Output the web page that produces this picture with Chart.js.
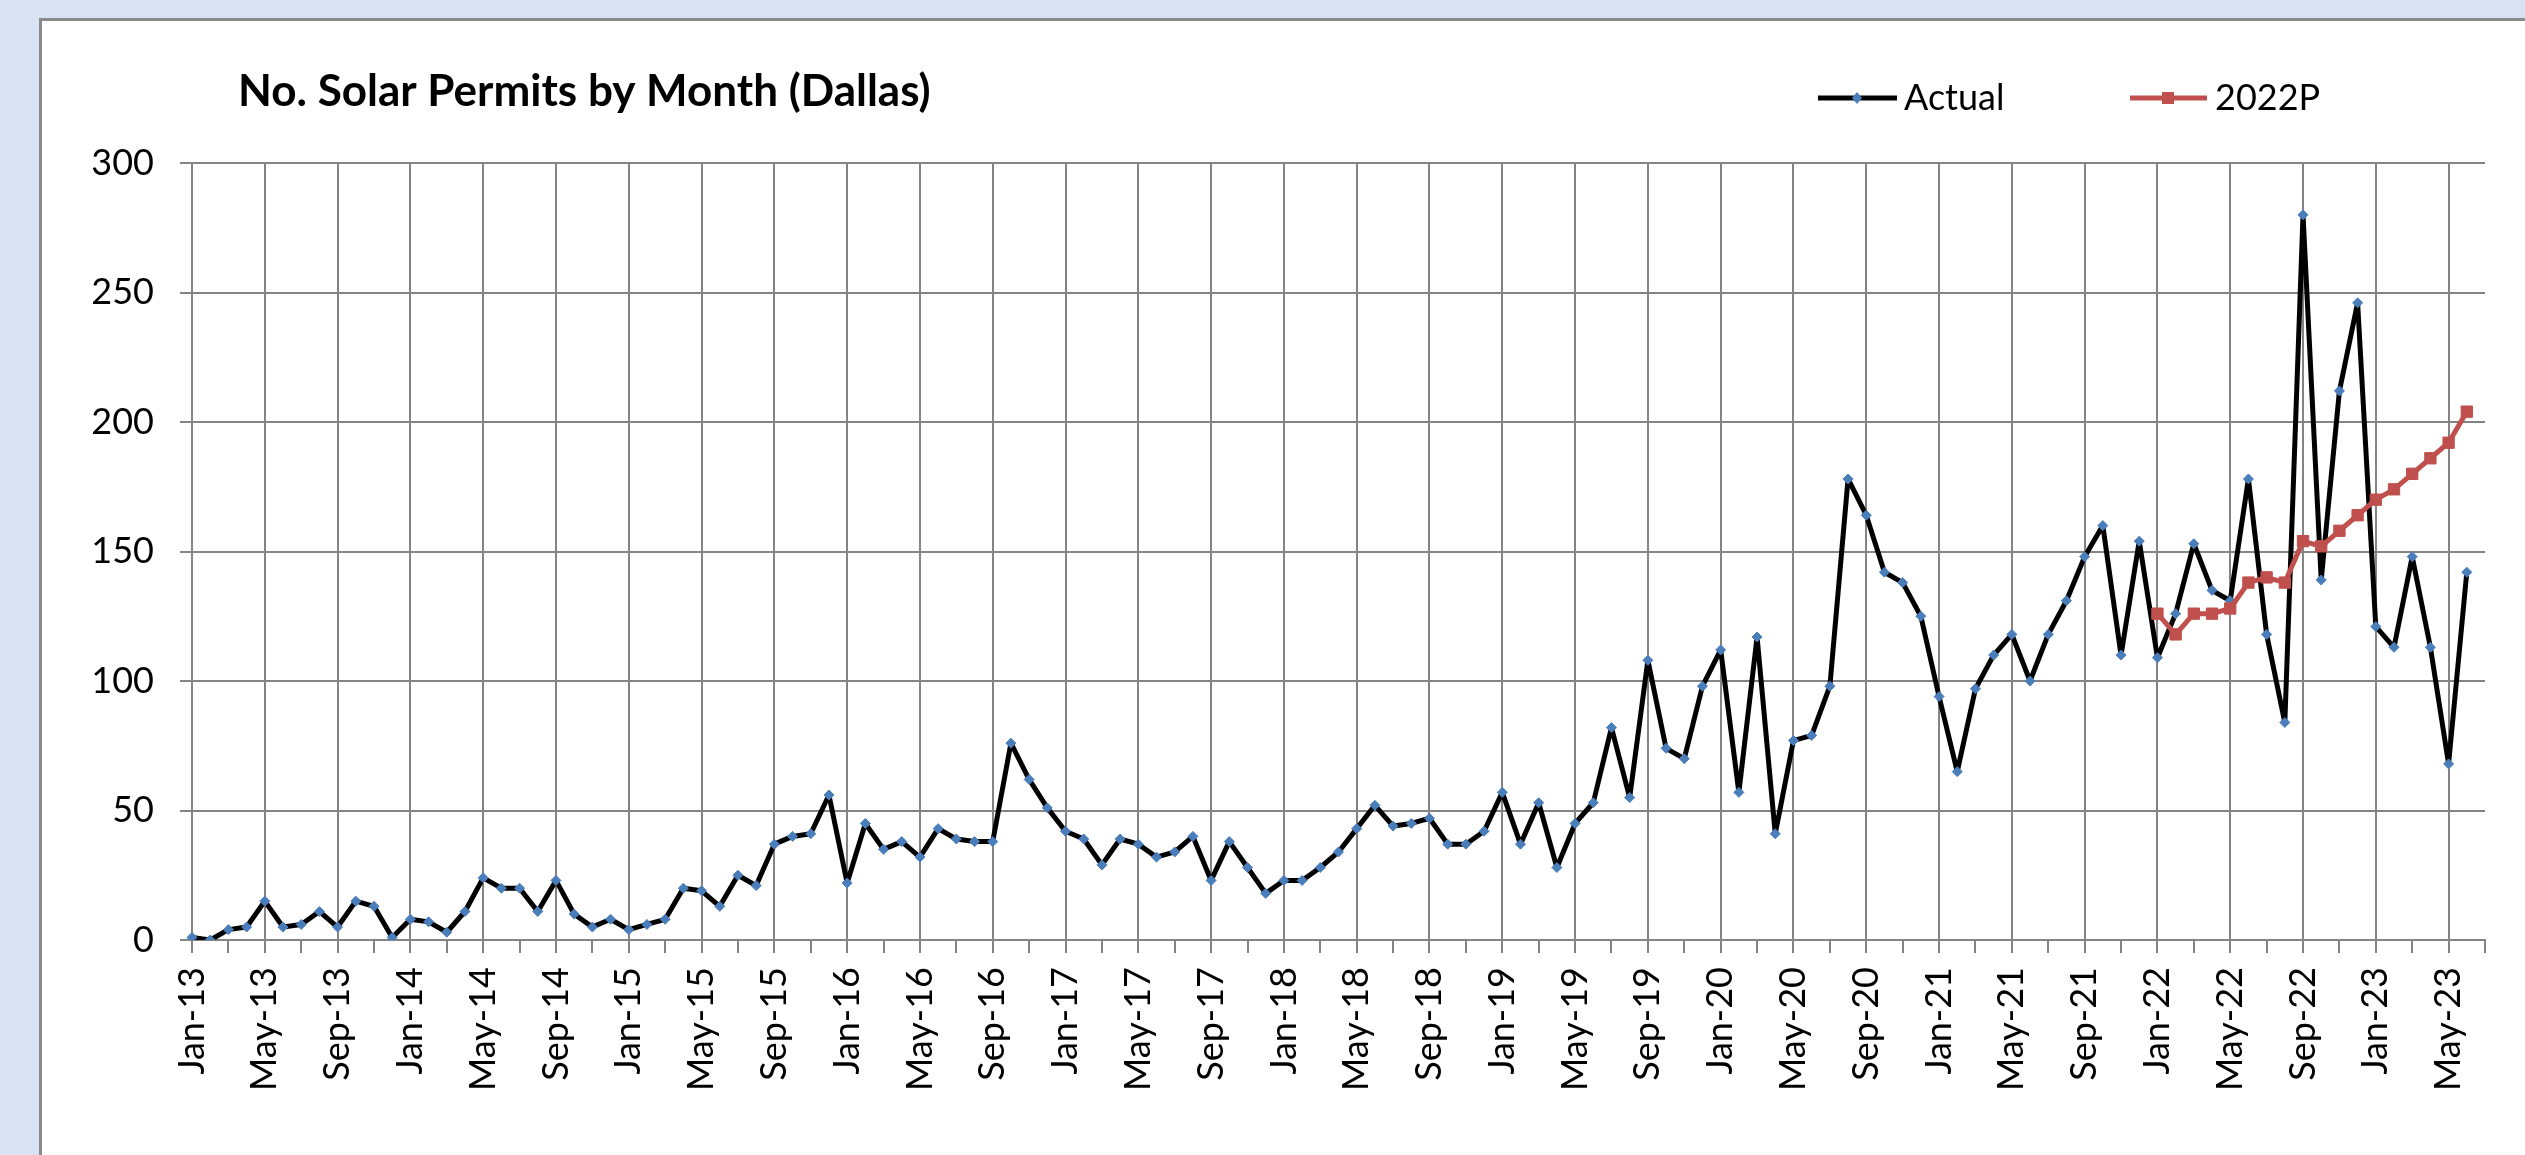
<!DOCTYPE html>
<html>
<head>
<meta charset="utf-8">
<script src="https://cdn.jsdelivr.net/npm/chart.js@4.4.1/dist/chart.umd.min.js"></script>
<style>
html,body{margin:0;padding:0;background:#dae3f3;overflow:hidden;}
canvas{display:block;}
</style>
</head>
<body>
<canvas id="c" width="2525" height="1155"></canvas>
<script>
// ---- data ----
const MONTHS = ['Jan','Feb','Mar','Apr','May','Jun','Jul','Aug','Sep','Oct','Nov','Dec'];
const YEARS = ['13','14','15','16','17','18','19','20','21','22','23'];
const LAST_MONTH_2023 = 7; // axis runs to Jul-23

const actual2013 = [1, 0, 4, 5, 15, 5, 6, 11, 5, 15, 13, 1];
const actual2014 = [8, 7, 3, 11, 24, 20, 20, 11, 23, 10, 5, 8];
const actual2015 = [4, 6, 8, 20, 19, 13, 25, 21, 37, 40, 41, 56];
const actual2016 = [22, 45, 35, 38, 32, 43, 39, 38, 38, 76, 62, 51];
const actual2017 = [42, 39, 29, 39, 37, 32, 34, 40, 23, 38, 28, 18];
const actual2018 = [23, 23, 28, 34, 43, 52, 44, 45, 47, 37, 37, 42];
const actual2019 = [57, 37, 53, 28, 45, 53, 82, 55, 108, 74, 70, 98];
const actual2020 = [112, 57, 117, 41, 77, 79, 98, 178, 164, 142, 138, 125];
const actual2021 = [94, 65, 97, 110, 118, 100, 118, 131, 148, 160, 110, 154];
const actual2022 = [109, 126, 153, 135, 131, 178, 118, 84, 280, 139, 212, 246];
const actual2023 = [121, 113, 148, 113, 68, 142, null];

const projectedStart = 'Jan-22';
const projected2022P = [126, 118, 126, 126, 128, 138, 140, 138, 154, 152, 158, 164, 170, 174, 180, 186, 192, 204];

const yTicks = [0, 50, 100, 150, 200, 250, 300];

// ---- build tables ----
const categories = [];
YEARS.forEach((y, yi) => {
  const n = (yi === YEARS.length - 1) ? LAST_MONTH_2023 : 12;
  for (let m = 0; m < n; m++) categories.push(MONTHS[m] + '-' + y);
});
const actualValues = [].concat(actual2013, actual2014, actual2015, actual2016, actual2017,
  actual2018, actual2019, actual2020, actual2021, actual2022, actual2023);
const startIdx = categories.indexOf(projectedStart);
const projectedValues = categories.map((c, i) =>
  (i >= startIdx && i - startIdx < projected2022P.length) ? projected2022P[i - startIdx] : null);

const W = 2525, H = 1155;
const FONT = 'Lato, "Open Sans", sans-serif';
const GRID = '#848484';

const framePlugin = {
  id: 'frame',
  beforeDraw(chart) {
    const ctx = chart.ctx;
    ctx.save();
    ctx.fillStyle = '#dae3f3';
    ctx.fillRect(0, 0, W, H);
    ctx.fillStyle = '#ffffff';
    ctx.fillRect(40, 20, W, H);
    ctx.strokeStyle = '#8a8a8a';
    ctx.lineWidth = 3;
    ctx.beginPath();
    ctx.moveTo(40.5, H);
    ctx.lineTo(40.5, 19.5);
    ctx.lineTo(W, 19.5);
    ctx.stroke();
    ctx.restore();
  },
  afterDraw(chart) {
    const ctx = chart.ctx;
    ctx.save();
    // title
    ctx.fillStyle = '#000';
    ctx.textBaseline = 'middle';
    ctx.textAlign = 'left';
    ctx.font = 'bold 44px ' + FONT;
    ctx.fillText('No. Solar Permits by Month (Dallas)', 238, 92);
    // legend
    const ly = 98;
    ctx.lineWidth = 5;
    ctx.strokeStyle = '#000';
    ctx.beginPath(); ctx.moveTo(1818, ly); ctx.lineTo(1897, ly); ctx.stroke();
    ctx.fillStyle = '#4a7ebb';
    ctx.beginPath();
    ctx.moveTo(1857, ly - 6); ctx.lineTo(1862, ly); ctx.lineTo(1857, ly + 6); ctx.lineTo(1852, ly);
    ctx.closePath(); ctx.fill();
    ctx.strokeStyle = '#c0504d';
    ctx.beginPath(); ctx.moveTo(2130, ly); ctx.lineTo(2207, ly); ctx.stroke();
    ctx.fillStyle = '#c0504d';
    ctx.fillRect(2162, ly - 6, 12, 12);
    ctx.fillStyle = '#000';
    ctx.font = '36px ' + FONT;
    ctx.fillText('Actual', 1904, ly);
    ctx.fillText('2022P', 2215, ly);
    ctx.restore();
  }
};

new Chart(document.getElementById('c'), {
  type: 'line',
  data: {
    labels: categories,
    datasets: [
      {
        label: 'Actual',
        data: actualValues,
        borderColor: '#000000',
        borderWidth: 5,
        borderJoinStyle: 'round',
        borderCapStyle: 'round',
        tension: 0,
        pointStyle: 'rectRot',
        pointRadius: 5,
        pointBackgroundColor: '#4a7ebb',
        pointBorderColor: '#4a7ebb',
        pointBorderWidth: 1,
        spanGaps: false,
        order: 2
      },
      {
        label: '2022P',
        data: projectedValues,
        borderColor: '#c0504d',
        borderWidth: 5,
        borderJoinStyle: 'round',
        borderCapStyle: 'round',
        tension: 0,
        pointStyle: 'rect',
        pointRadius: 8,
        pointBackgroundColor: '#c0504d',
        pointBorderColor: '#c0504d',
        pointBorderWidth: 1,
        order: 1
      }
    ]
  },
  options: {
    responsive: false,
    animation: false,
    events: [],
    layout: { padding: { left: 0, right: 40, top: 163, bottom: 0 } },
    plugins: { legend: { display: false }, title: { display: false }, tooltip: { enabled: false } },
    scales: {
      x: {
        type: 'category',
        offset: false,
        grid: {
          display: true,
          drawOnChartArea: true,
          drawTicks: true,
          tickLength: 13,
          lineWidth: 2,
          color: (ctx) => (ctx.index % 4 === 0 ? GRID : 'rgba(0,0,0,0)'),
          tickColor: (ctx) => (ctx.index % 2 === 0 ? GRID : 'rgba(0,0,0,0)')
        },
        border: { display: true, color: GRID, width: 2 },
        ticks: {
          autoSkip: false,
          minRotation: 90,
          maxRotation: 90,
          padding: 14,
          color: '#000',
          font: { family: FONT, size: 36 },
          callback: function (value, index) { return index % 4 === 0 ? this.getLabelForValue(value) : ''; }
        },
        afterFit: (scale) => { scale.height = H - 940; scale.paddingLeft = 0; scale.paddingRight = 0; }
      },
      y: {
        min: 0,
        max: 300,
        afterBuildTicks: (scale) => { scale.ticks = yTicks.map(v => ({ value: v })); },
        grid: { color: GRID, lineWidth: 2, tickLength: 12, tickColor: GRID },
        border: { display: true, color: GRID, width: 2 },
        ticks: {
          padding: 26,
          color: '#000',
          font: { family: FONT, size: 36 }
        },
        afterFit: (scale) => { scale.width = 192; scale.paddingTop = 0; scale.paddingBottom = 0; }
      }
    }
  },
  plugins: [framePlugin]
});
</script>
</body>
</html>
